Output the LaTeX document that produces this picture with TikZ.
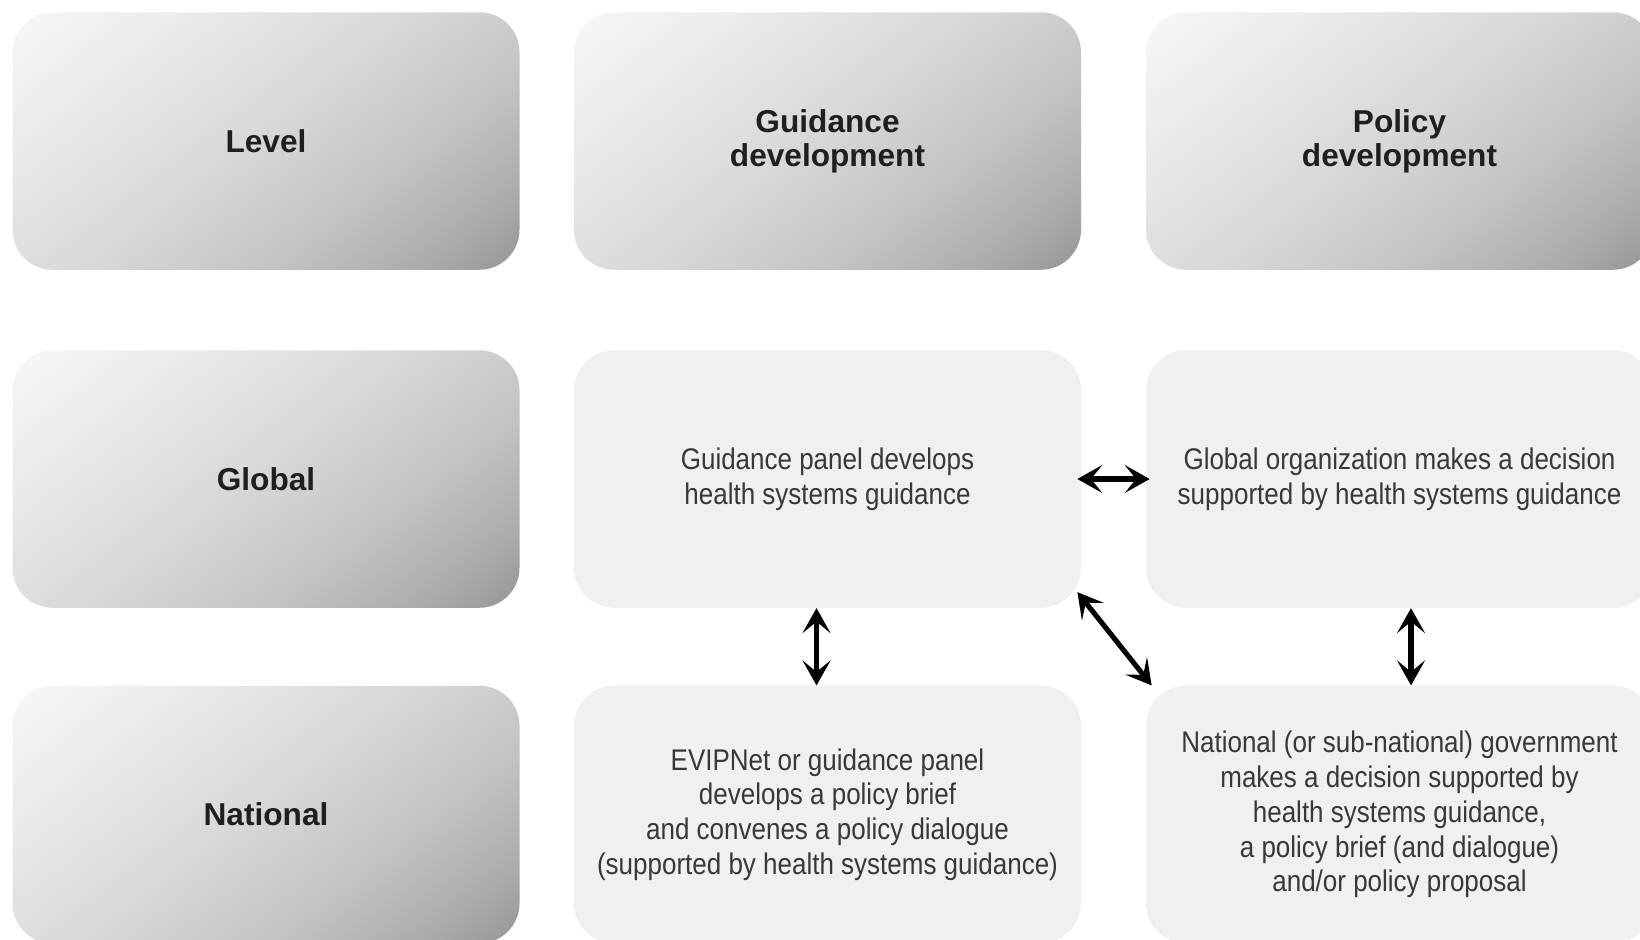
\documentclass[tikz,border=0pt]{standalone}
\usepackage{fontspec}
\setmainfont{Liberation Sans}
\newfontfamily\narrowfont[FakeStretch=0.87]{Liberation Sans}
\usetikzlibrary{arrows.meta}

% light at the top left, dark only near the bottom right
\pgfdeclarehorizontalshading{headshade}{100bp}{color(0bp)=(black!2); color(15bp)=(black!3);
  color(35bp)=(black!10); color(50bp)=(black!16); color(65bp)=(black!24);
  color(78bp)=(black!34); color(86bp)=(black!43); color(100bp)=(black!43)}

\tikzset{
  headbox/.style={rounded corners=0.8cm, minimum width=10.14cm, minimum height=5.15cm,
    shading=headshade, shading angle=-52,
    text=black!88, align=center, font=\fontsize{18}{19.5}\selectfont\bfseries},
  textbox/.style={rounded corners=0.8cm, minimum width=10.14cm, minimum height=5.15cm,
    fill=black!6, text=black!78, align=center, font=\narrowfont\fontsize{17}{19.8}\selectfont},
  link/.style={{Stealth[length=5mm,width=5.6mm,inset=2.3mm]}-{Stealth[length=5mm,width=5.6mm,inset=2.3mm]},
    line width=2.9pt}
}

\begin{document}
\begin{tikzpicture}
  \useasboundingbox (0,0) rectangle (32.8,-18.78);

  % Draw header boxes
  \foreach \name/\x/\y/\txt in {level/5.32/-2.82/Level,
      guidance/16.55/-2.82/{Guidance\\development},
      policy/27.99/-2.82/{Policy\\development},
      global/5.32/-9.58/Global,
      national/5.32/-16.29/National}
    \node[headbox] (\name) at (\x,\y) {\txt};

  % Draw content boxes
  \node[textbox] (guideglobal) at (16.55,-9.58)
    {Guidance panel develops\\health systems guidance};
  \node[textbox] (policyglobal) at (27.99,-9.58)
    {Global organization makes a decision\\supported by health systems guidance};
  \node[textbox] (guidenational) at (16.55,-16.29)
    {EVIPNet or guidance panel\\develops a policy brief\\and convenes a policy dialogue\\(supported by health systems guidance)};
  \node[textbox] (policynational) at (27.99,-16.29)
    {National (or sub-national) government\\makes a decision supported by\\health systems guidance,\\a policy brief (and dialogue)\\and/or policy proposal};

  % Draw links
  \draw[link] ([xshift=-0.08cm]guideglobal.east) -- ([xshift=0.08cm]policyglobal.west);
  \draw[link] ([xshift=-0.22cm]guideglobal.south) -- ([xshift=-0.22cm]guidenational.north);
  \draw[link] ([xshift=0.23cm]policyglobal.south) -- ([xshift=0.23cm]policynational.north);
  \draw[link] ([shift={(-0.08,0.32)}]guideglobal.south east) -- ([xshift=0.12cm]policynational.north west);
\end{tikzpicture}
\end{document}
